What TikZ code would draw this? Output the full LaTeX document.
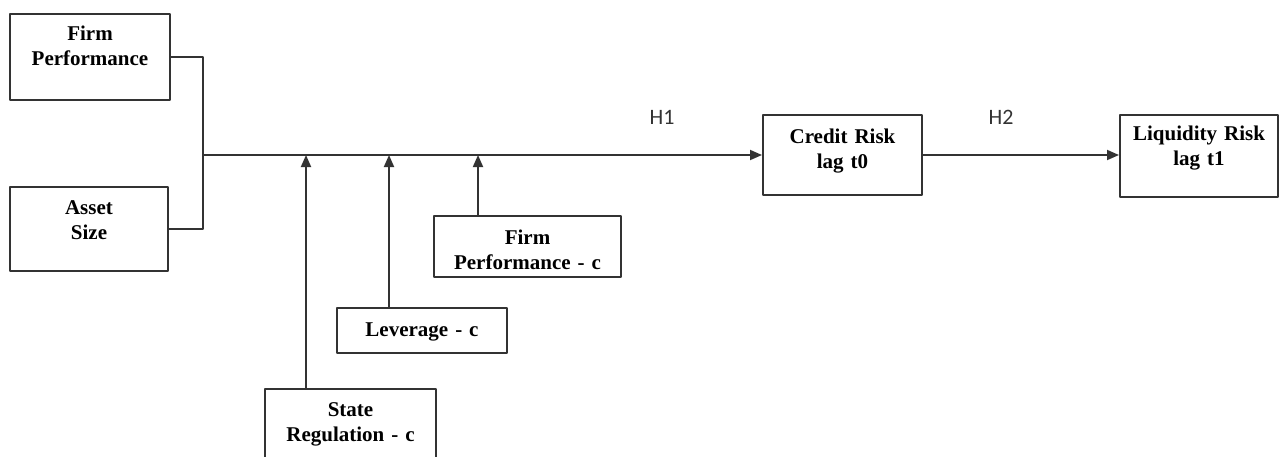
\documentclass[tikz,border=0pt]{standalone}
\usepackage{fontspec}
\setmainfont{Liberation Serif}
\newfontfamily\hypfont{Carlito}
\usetikzlibrary{arrows.meta}
\definecolor{linec}{HTML}{333333}
\tikzset{
  every picture/.style={line join=round, >={Triangle[length=6pt,width=5pt]}},
  varbox/.style={draw=linec, line width=1pt, align=center, inner sep=0pt, anchor=north, font=\fontsize{10.5}{12.5}\selectfont\bfseries},
  link/.style={draw=linec, line width=0.9pt},
  flow/.style={link, ->},
  hyp/.style={font=\hypfont\fontsize{11}{13}\selectfont, text=linec},
}

\begin{document}
\begin{tikzpicture}[x=0.5pt,y=-0.5pt]
\useasboundingbox (0,0) rectangle (1279,456);
\clip (0,0) rectangle (1279,456);
% independent variables
\node[varbox,text width=80pt,text height=13pt,text depth=30pt] (fp) at (90,13) {Firm\\Performance};
\node[varbox,text width=79pt,text height=13.5pt,text depth=28.5pt] (asset) at (89,186) {Asset\\Size};
% controls
\node[varbox,text width=93.5pt,text height=14pt,text depth=16.5pt] (fpc) at (527.5,215) {Firm\\Performance - c};
\node[varbox,text width=85pt,text height=14pt,text depth=8.5pt] (lev) at (422,307) {Leverage - c};
\node[varbox,text width=85.5pt,text height=13.5pt,text depth=32pt] (state) at (350.5,388) {State\\Regulation - c};
% outcomes
\node[varbox,text width=79.5pt,text height=14pt,text depth=26pt] (credit) at (842.5,114) {Credit Risk\\lag t0};
\node[varbox,text width=79pt,text height=12.5pt,text depth=28.5pt] (liq) at (1199,114) {Liquidity Risk\\lag t1};
\node[hyp] (h1) at (662,117) {H1};
\node[hyp] (h2) at (1001,117) {H2};
% paths
\coordinate (jx) at (203,0);
\coordinate (j) at (jx |- credit.west);
\draw[link] (fp.east) -| (j);
\draw[link] (asset.east) -| (j);
\draw[flow] (j) -- (credit.west);
\draw[flow] (credit.east) -- (credit.east -| liq.west);
\foreach \x/\b in {306/state,389/lev,478/fpc}{
  \coordinate (tap) at (\x,0);
  \draw[flow] (tap |- \b.north) -- (tap |- j);
}
\end{tikzpicture}
\end{document}
